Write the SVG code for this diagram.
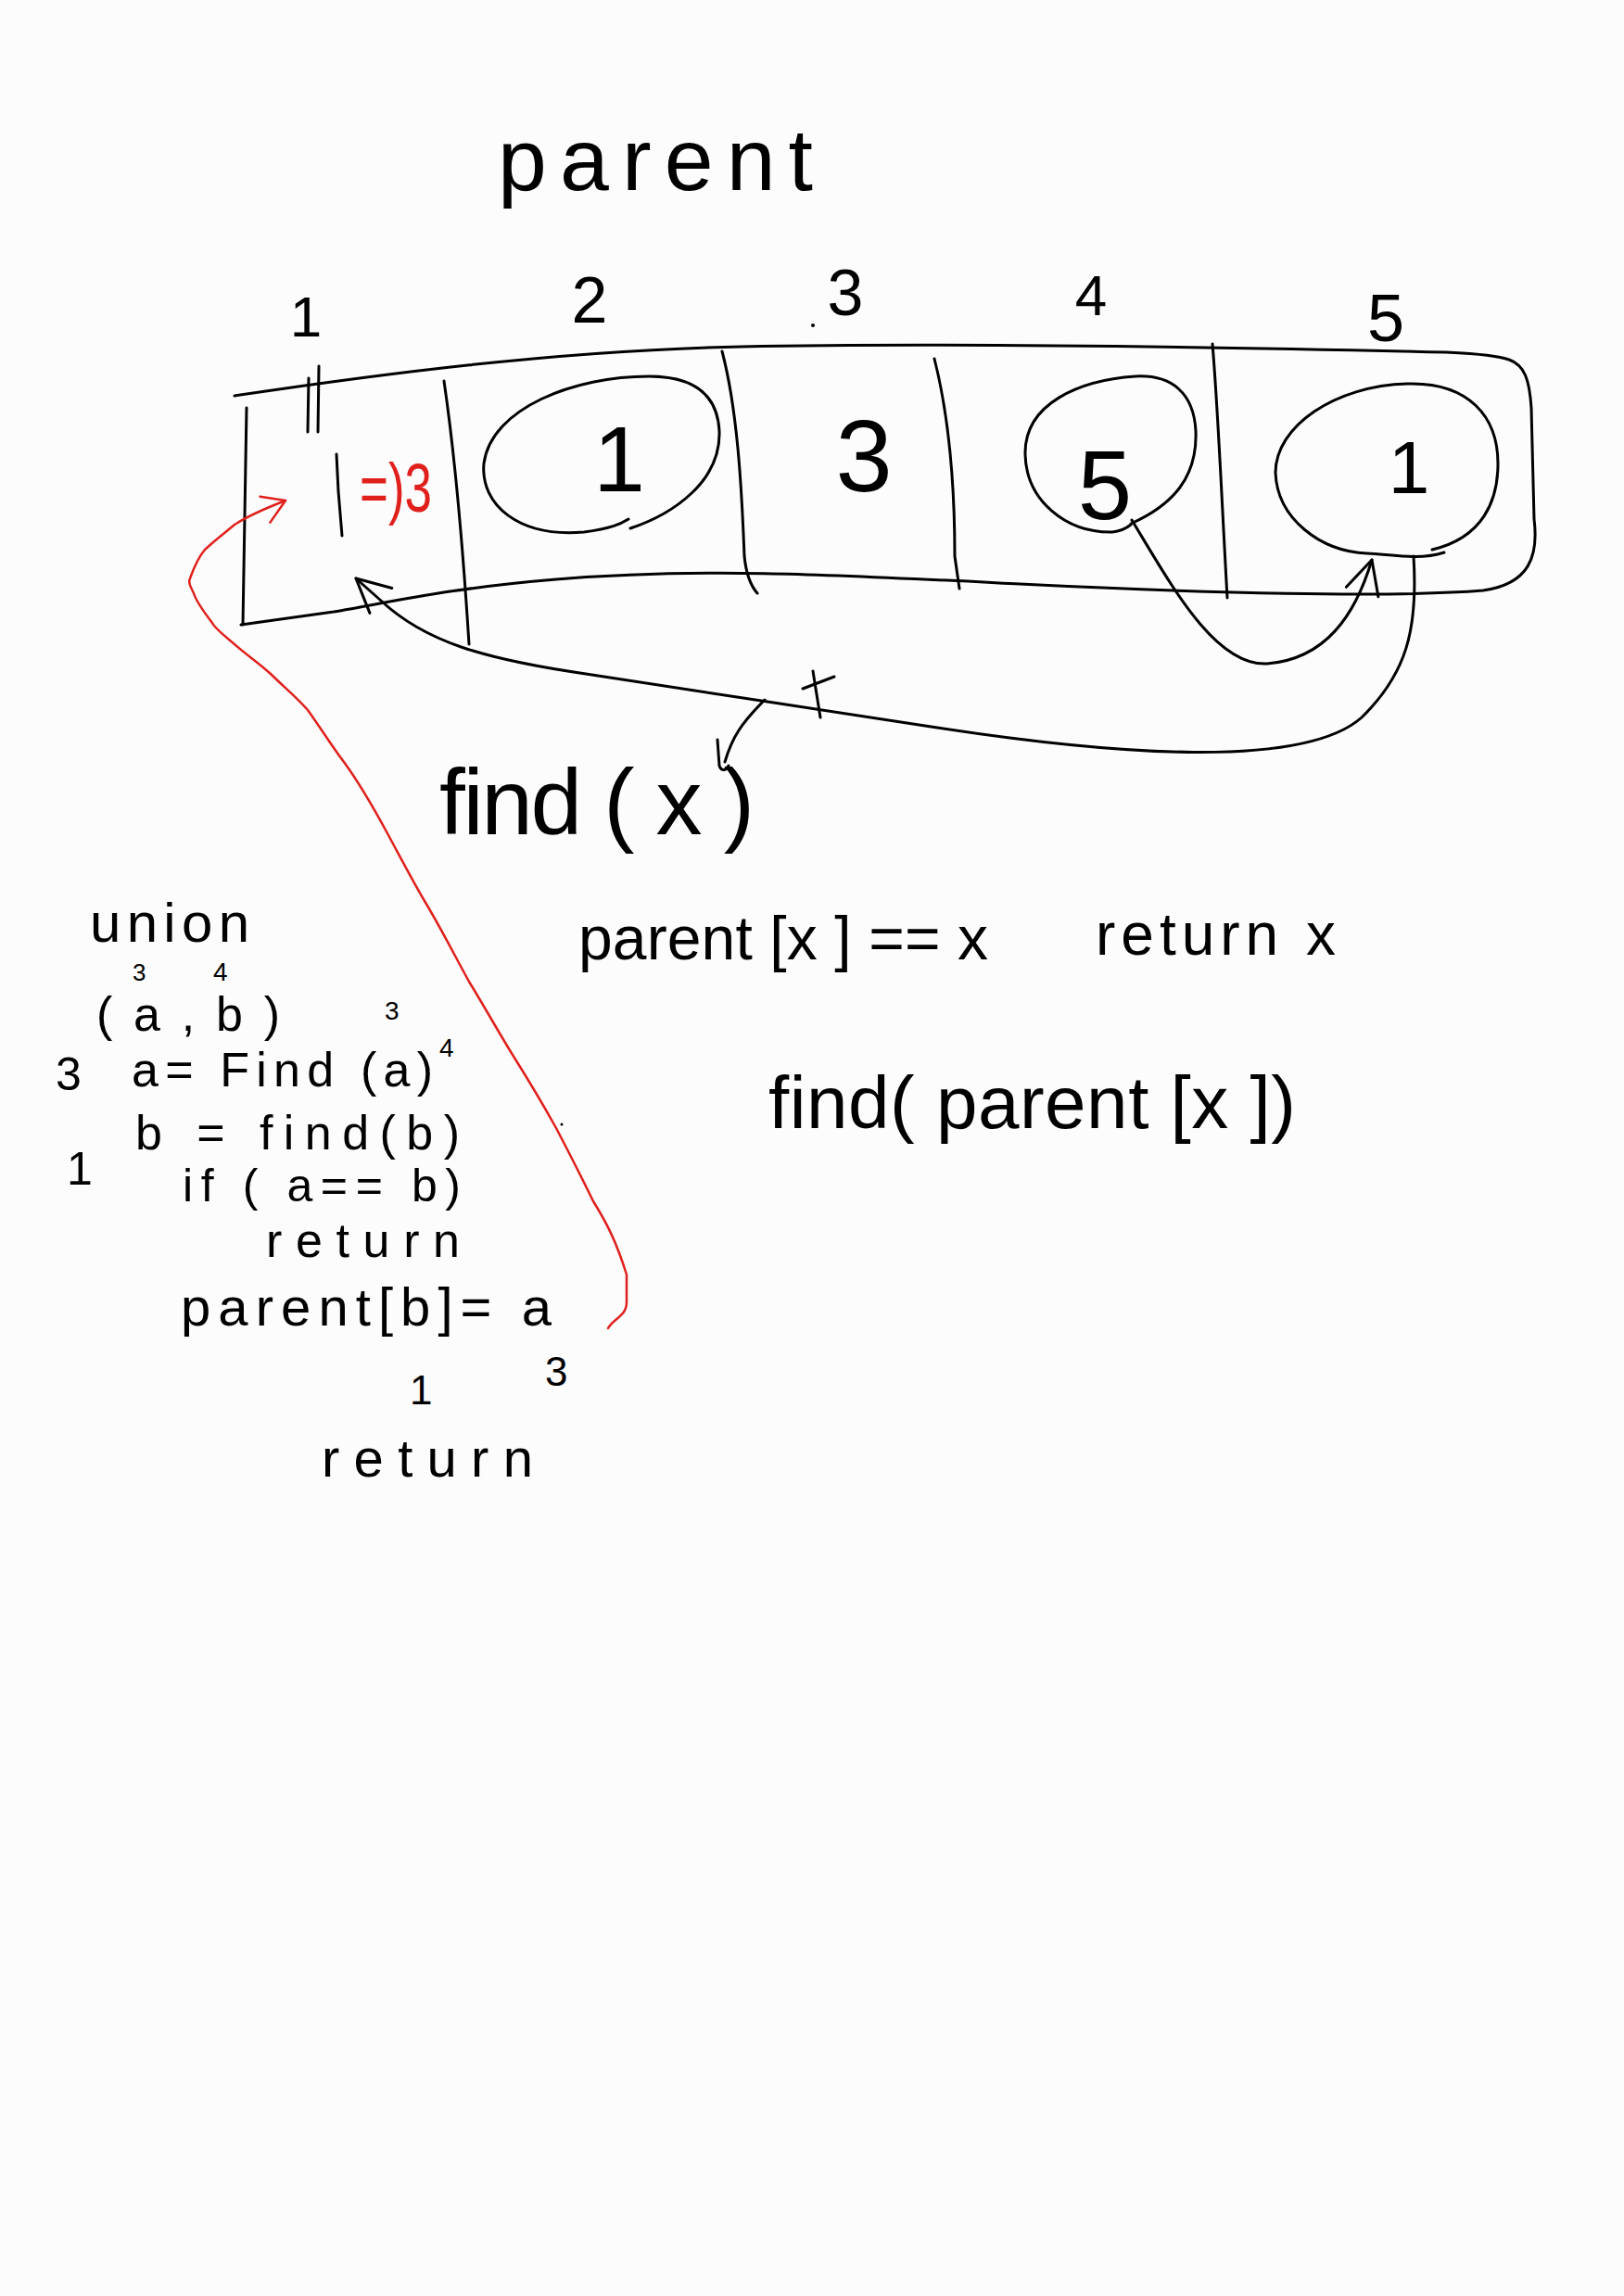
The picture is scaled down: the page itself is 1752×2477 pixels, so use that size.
<svg xmlns="http://www.w3.org/2000/svg" width="1752" height="2477" viewBox="0 0 1752 2477">
<style>
.ink{fill:none;stroke:#000;stroke-width:3;stroke-linecap:round;stroke-linejoin:round}
.red{fill:none;stroke:#e0201c;stroke-width:2.5;stroke-linecap:round;stroke-linejoin:round}
.t{font-family:"Liberation Sans",Arial,sans-serif;fill:#000}
.tr{font-family:"Liberation Sans",Arial,sans-serif;fill:#e0201c}
.c{text-anchor:middle}
</style>
<defs>
<marker id="open" markerUnits="userSpaceOnUse" markerWidth="50" markerHeight="50" refX="40" refY="20" orient="auto">
<path d="M4,2 L40,20 L4,38" fill="none" stroke="#000" stroke-width="3" stroke-linecap="round" stroke-linejoin="round"/>
</marker>
<marker id="openred" markerUnits="userSpaceOnUse" markerWidth="40" markerHeight="40" refX="30" refY="16" orient="auto">
<path d="M6,2 L30,16 L6,32" fill="none" stroke="#e0201c" stroke-width="2.5" stroke-linecap="round" stroke-linejoin="round"/>
</marker>
</defs>
<rect width="1752" height="2477" fill="#fcfcfc"/>

<g id="title">
<text class="t" x="537" y="205" font-size="95" textLength="340" lengthAdjust="spacing">parent</text>
</g>

<g id="indices">
<text class="t c" x="330" y="363" font-size="62">1</text>
<text class="t c" x="636" y="348" font-size="70">2</text>
<text class="t c" x="912" y="340" font-size="70">3</text>
<text class="t c" x="1177" y="340" font-size="62">4</text>
<text class="t c" x="1495" y="368" font-size="72">5</text>
<circle cx="877" cy="351" r="2" fill="#000"/>
</g>

<g id="array">
<path class="ink" d="M253 427 C400 405,600 378,800 374 C1000 370,1300 374,1560 380 C1600 382,1615 384,1628 388 C1645 394,1650 410,1652 440 L1655 560 C1660 600,1650 630,1600 637 C1500 645,1300 640,1100 630 C900 620,760 612,600 625 C480 635,420 650,360 660 L260 674"/>
<path class="ink" d="M266 440 L262 674"/>
<path class="ink" d="M479 411 C492 500,500 600,506 695"/>
<path class="ink" d="M779 379 C795 440,800 520,803 600 C805 620,810 632,817 640"/>
<path class="ink" d="M1008 387 C1024 450,1030 520,1030 600 L1035 635"/>
<path class="ink" d="M1308 371 C1314 440,1318 540,1324 645"/>
</g>

<g id="cell1">
<path class="ink" d="M333 408 L332 466 M344 395 L343 466"/>
<path class="ink" d="M363 490 L365 530 L369 578"/>
<text class="tr" x="388" y="552" font-size="75" textLength="78" lengthAdjust="spacingAndGlyphs">=)3</text>
</g>

<g id="cell2">
<path class="ink" d="M680 570 C725 555,778 520,776 465 C774 425,748 406,700 406 C620 406,530 440,522 500 C518 545,560 580,630 574 C660 570,670 565,678 560"/>
<text class="t c" x="668" y="530" font-size="100">1</text>
</g>

<g id="cell3">
<text class="t c" x="932" y="530" font-size="110">3</text>
</g>

<g id="cell4">
<path class="ink" d="M1220 565 C1265 545,1292 515,1290 465 C1288 425,1265 404,1225 406 C1165 410,1105 435,1106 490 C1107 540,1150 575,1200 574 C1210 573,1215 570,1220 566"/>
<text class="t c" x="1192" y="560" font-size="105">5</text>
</g>

<g id="cell5">
<path class="ink" d="M1545 593 C1600 580,1616 540,1616 500 C1616 450,1585 412,1518 414 C1440 416,1376 460,1376 510 C1378 560,1425 595,1475 597 C1500 598,1530 605,1558 596"/>
<text class="t c" x="1520" y="532" font-size="80">1</text>
</g>

<g id="connectors">
<path class="ink" marker-end="url(#open)" d="M1221 561 C1264 632,1311 719,1367 716 C1430 711,1462 664,1480 604"/>
<path class="ink" marker-end="url(#open)" d="M1525 600 C1530 680,1517 727,1469 774 C1406 830,1200 814,1011 785 C885 766,758 746,632 727 C521 711,458 692,411 648 L384 624"/>
<path class="ink" d="M877 724 L885 774 M866 743 L900 730"/>
<path class="ink" d="M782 822 C790 795,800 780,825 755"/>
<path class="red" marker-end="url(#openred)" d="M656 1433 C662 1422,676 1420,676 1405 L676 1375 C665 1340,655 1320,640 1296 C625 1265,612 1240,600 1217 C585 1190,570 1165,553 1138 C537 1112,522 1085,506 1059 C490 1030,475 1000,458 972 C445 950,432 925,419 901 C405 875,390 848,371 822 C358 805,345 784,332 766 C320 752,305 740,292 727 C278 714,265 706,253 695 C240 684,232 678,229 672 C220 660,212 650,209 640 C205 632,203 628,205 624 C210 610,215 600,221 593 C235 580,245 573,253 566 C270 555,290 547,308 540"/>
</g>

<g id="find-text">
<text class="t" x="474" y="900" font-size="100" textLength="340" lengthAdjust="spacing">find ( x )</text>
<path class="ink" d="M774 798 L776 826 C778 832,783 832,786 826"/>
</g>

<g id="find-body">
<text class="t" x="624" y="1035" font-size="66" textLength="442" lengthAdjust="spacing">parent [x ] == x</text>
<text class="t" x="1182" y="1030" font-size="64" textLength="259" lengthAdjust="spacing">return x</text>
<text class="t" x="829" y="1217" font-size="80" textLength="569" lengthAdjust="spacing">find( parent [x ])</text>
</g>

<g id="union">
<text class="t" x="97" y="1016" font-size="60" textLength="172" lengthAdjust="spacing">union</text>
<text class="t" x="143" y="1058" font-size="26">3</text>
<text class="t" x="230" y="1058" font-size="28">4</text>
<text class="t" x="104" y="1112" font-size="52" textLength="198" lengthAdjust="spacing">( a , b )</text>
<text class="t" x="60" y="1176" font-size="50">3</text>
<text class="t" x="142" y="1172" font-size="52" textLength="325" lengthAdjust="spacing">a= Find (a)</text>
<text class="t" x="415" y="1100" font-size="28">3</text>
<text class="t" x="474" y="1140" font-size="28">4</text>
<text class="t" x="72" y="1278" font-size="50">1</text>
<text class="t" x="146" y="1240" font-size="52" textLength="350" lengthAdjust="spacing">b = find(b)</text>
<text class="t" x="197" y="1296" font-size="50" textLength="300" lengthAdjust="spacing">if ( a== b)</text>
<text class="t" x="287" y="1356" font-size="52" textLength="209" lengthAdjust="spacing">return</text>
<text class="t" x="195" y="1430" font-size="58" textLength="400" lengthAdjust="spacing">parent[b]= a</text>
<text class="t" x="442" y="1515" font-size="44">1</text>
<text class="t" x="588" y="1495" font-size="44">3</text>
<text class="t" x="347" y="1593" font-size="58" textLength="228" lengthAdjust="spacing">return</text>
<circle cx="606" cy="1213" r="1.5" fill="#000"/>
</g>
</svg>
